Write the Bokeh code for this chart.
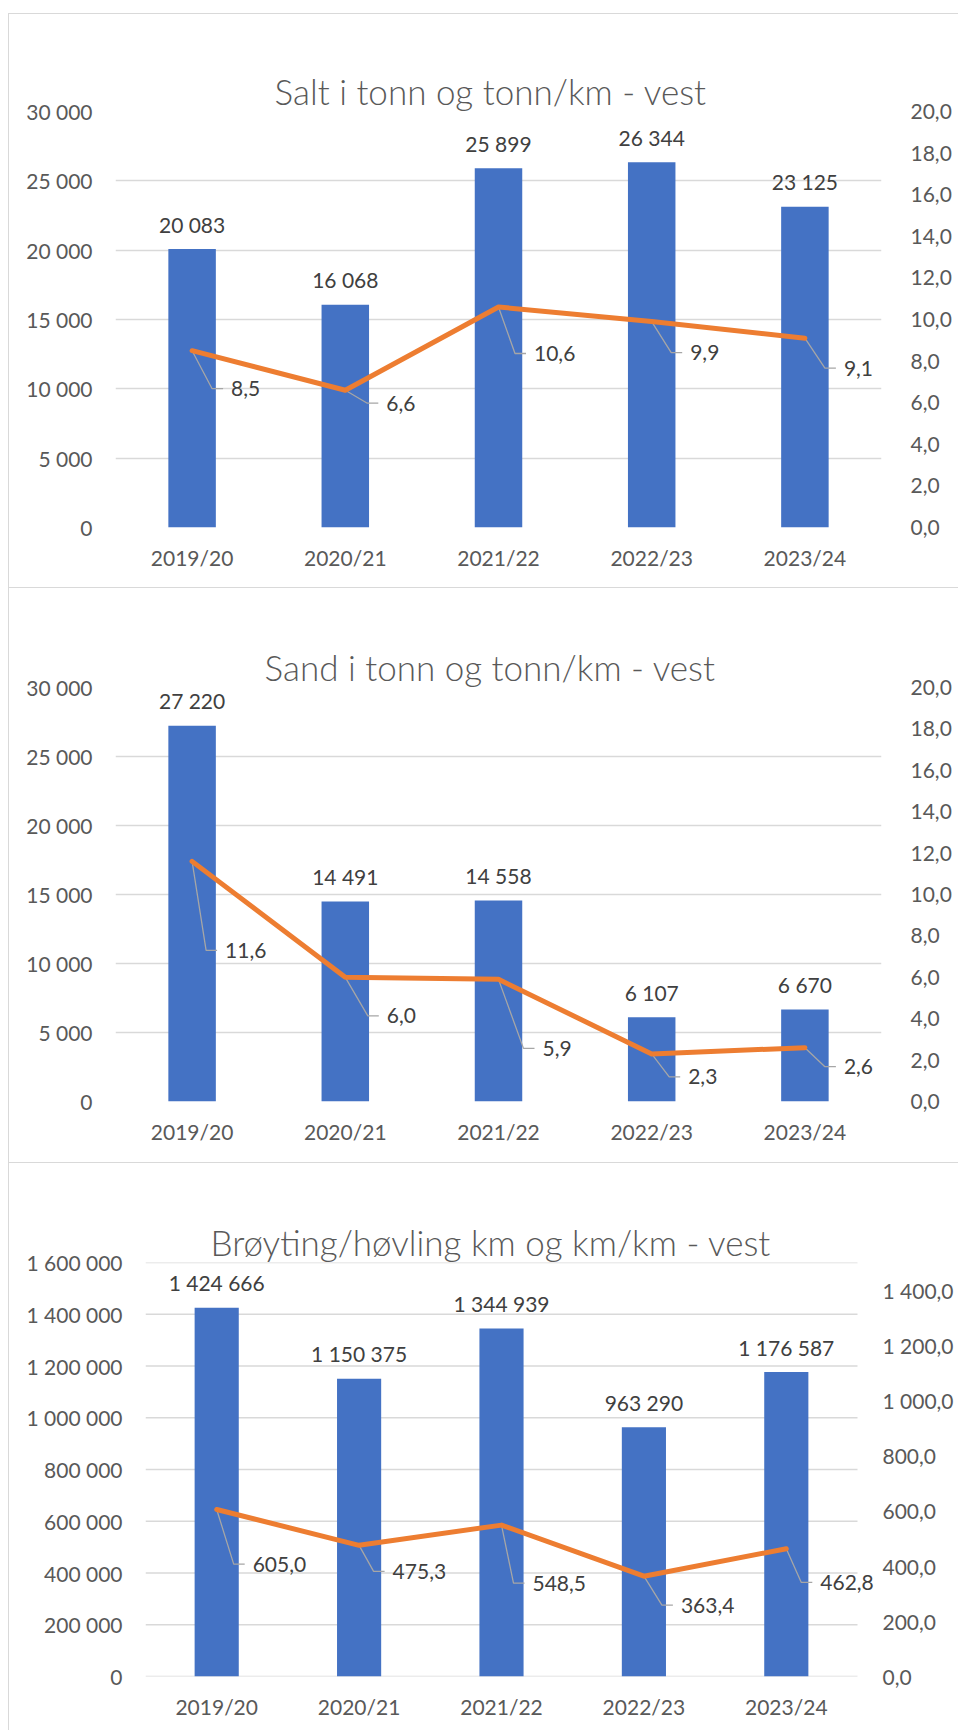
from bokeh.plotting import figure
from bokeh.models import (Range1d, LinearAxis, FixedTicker, ColumnDataSource, Spacer,
                          LabelSet, Title)
from bokeh.layouts import column, row
from bokeh.core.properties import value
from bokeh.embed import file_html
from bokeh.resources import INLINE

# ---------------- data ----------------
categories = ["2019/20", "2020/21", "2021/22", "2022/23", "2023/24"]

salt_tonn = [20083, 16068, 25899, 26344, 23125]
salt_tonn_per_km = [8.5, 6.6, 10.6, 9.9, 9.1]

sand_tonn = [27220, 14491, 14558, 6107, 6670]
sand_tonn_per_km = [11.6, 6.0, 5.9, 2.3, 2.6]

broyting_km = [1424666, 1150375, 1344939, 963290, 1176587]
broyting_km_per_km = [605.0, 475.3, 548.5, 363.4, 462.8]

tonn_ticks = [0, 5000, 10000, 15000, 20000, 25000, 30000]
tonn_tick_labels = ["0", "5 000", "10 000", "15 000", "20 000", "25 000", "30 000"]
rate_ticks = [0, 2, 4, 6, 8, 10, 12, 14, 16, 18, 20]
rate_tick_labels = ["0,0", "2,0", "4,0", "6,0", "8,0", "10,0", "12,0", "14,0", "16,0", "18,0", "20,0"]
km_ticks = [0, 200000, 400000, 600000, 800000, 1000000, 1200000, 1400000, 1600000]
km_tick_labels = ["0", "200 000", "400 000", "600 000", "800 000", "1 000 000",
                  "1 200 000", "1 400 000", "1 600 000"]
kmkm_ticks = [0, 200, 400, 600, 800, 1000, 1200, 1400]
kmkm_tick_labels = ["0,0", "200,0", "400,0", "600,0", "800,0", "1 000,0", "1 200,0", "1 400,0"]

titles = ["Salt i tonn og tonn/km - vest",
          "Sand i tonn og tonn/km - vest",
          "Brøyting/høvling km og km/km - vest"]

# ---------------- styles / positions ----------------
FONT = "Lato"
TITLE_FONT = "'Lato Light', Lato"
BLUE = "#4472C4"
ORANGE = "#ED7D31"
GRID = "#d9d9d9"
AXIS_TXT = "#595959"
DATA_TXT = "#404040"
W = 950

# label offsets (px) of line data labels: (to label left edge, to label centre)
offs_salt = [(39, 38), (41, 13), (35.5, 46.5), (38.5, 31), (39, 30)]
offs_sand = [(33, 89), (41.5, 38.5), (44, 69), (36.5, 23), (39, 19)]
offs_broy = [(36, 54.6), (33.5, 26), (31, 58), (37, 29), (34, 33.7)]


def fmt_int(v):
    return f"{v:,}".replace(",", " ")


def fmt_dec(v):
    return f"{v:,.1f}".replace(",", " ").replace(".", ",")


def make_panel(title, bars, rates, lticks, llabels, lmax, rticks, rlabels, rmax,
               height, mbl, mbr, mbt, mbb, lstand, rstand, bstand, offs,
               title_offset, title_gap, extra_right=0):
    base_w = W - mbl - mbr            # width of the category area
    frame_w = base_w + extra_right    # plotting frame (may extend past grid)
    xmax = 5.0 * frame_w / base_w
    p = figure(width=W, height=height, output_backend="svg", toolbar_location=None,
               title=None,
               x_range=Range1d(0, xmax), y_range=Range1d(0, lmax),
               min_border_left=mbl, min_border_right=mbr - extra_right,
               min_border_top=mbt, min_border_bottom=mbb)
    p.frame_align = False
    p.extra_y_ranges = {"r": Range1d(0, rmax)}
    p.outline_line_color = None
    p.background_fill_color = "white"
    p.border_fill_color = "white"
    p.styles = {"border-top": "1px solid #d9d9d9", "border-left": "1px solid #d9d9d9"}

    # the figure's own axes (taken before any extra axis is added)
    xax = p.below[0]
    yax = p.left[0]

    # empty (tick-less, label-less) axis as a gap between frame and title
    gap = LinearAxis(ticker=FixedTicker(ticks=[]), axis_line_color=None,
                     major_tick_line_color=None, minor_tick_line_color=None,
                     major_tick_in=0, major_tick_out=title_gap,
                     minor_tick_in=0, minor_tick_out=0, major_label_standoff=0)
    p.add_layout(gap, "above")
    p.add_layout(Title(text=title, align="left", offset=title_offset, standoff=0,
                       text_font=TITLE_FONT, text_font_size="35px",
                       text_font_style="normal", text_color=AXIS_TXT), "above")

    xs = [i + 0.5 for i in range(len(categories))]

    # axes
    yax.ticker = FixedTicker(ticks=lticks)
    yax.major_label_overrides = {float(t): s for t, s in zip(lticks, llabels)}
    xax.ticker = FixedTicker(ticks=xs)
    xax.major_label_overrides = {float(x): c for x, c in zip(xs, categories)}
    rax = LinearAxis(y_range_name="r", ticker=FixedTicker(ticks=rticks))
    rax.major_label_overrides = {float(t): s for t, s in zip(rticks, rlabels)}
    p.add_layout(rax, "right")
    for ax, st in ((yax, lstand), (xax, bstand), (rax, rstand - extra_right)):
        ax.axis_line_color = None
        ax.major_tick_line_color = None
        ax.minor_tick_line_color = None
        ax.major_tick_out = 0
        ax.major_tick_in = 0
        ax.minor_tick_out = 0
        ax.minor_tick_in = 0
        ax.major_label_standoff = st
        ax.major_label_text_font = FONT
        ax.major_label_text_font_size = "21px"
        ax.major_label_text_color = AXIS_TXT

    p.xgrid.grid_line_color = None
    if extra_right:
        p.ygrid.grid_line_color = None
        p.segment(x0=[0] * len(lticks), x1=[5] * len(lticks), y0=lticks, y1=lticks,
                  line_color=GRID, line_width=1.5, level="underlay")
    else:
        p.ygrid.ticker = FixedTicker(ticks=lticks)
        p.ygrid.grid_line_color = GRID
        p.ygrid.grid_line_width = 1.5

    # bars
    src = ColumnDataSource(dict(x=xs, top=bars, lab=[fmt_int(v) for v in bars],
                                r=rates))
    p.vbar(x="x", top="top", width=0.31, bottom=0, source=src,
           fill_color=BLUE, line_color=None)
    p.add_layout(LabelSet(x="x", y="top", text="lab", source=src, text_align="center",
                          text_baseline="middle", y_offset=25, text_font=value(FONT),
                          text_font_size=value("21px"), text_color=DATA_TXT))

    # leader lines + line labels
    frame_h = height - mbt - mbb
    pxx = base_w / 5.0
    pxy = frame_h / rmax
    lxs, lys, lx, ly = [], [], [], []
    for x, r, (dx, dy) in zip(xs, rates, offs):
        tx = x + dx / pxx
        ty = r - dy / pxy
        lx.append(tx)
        ly.append(ty)
        lxs.append([x, x + (dx - 19) / pxx, x + (dx - 8) / pxx])
        lys.append([r, ty, ty])
    p.multi_line(xs=lxs, ys=lys, y_range_name="r", line_color="#a6a6a6", line_width=1.3)
    p.line(x="x", y="r", source=src, y_range_name="r", line_color=ORANGE,
           line_width=5, line_join="round", line_cap="round")
    lsrc = ColumnDataSource(dict(x=lx, y=ly, t=[fmt_dec(v) for v in rates]))
    p.add_layout(LabelSet(x="x", y="y", text="t", source=lsrc, y_range_name="r",
                          text_align="left", text_baseline="middle",
                          text_font=value(FONT), text_font_size=value("21px"),
                          text_color=DATA_TXT))
    return p


p1 = make_panel(titles[0], salt_tonn, salt_tonn_per_km, tonn_ticks, tonn_tick_labels, 30000,
                rate_ticks, rate_tick_labels, 20,
                574, 106, 78, 97, 61, 23, 29, 17, offs_salt, 159, 35)
p2 = make_panel(titles[1], sand_tonn, sand_tonn_per_km, tonn_ticks, tonn_tick_labels, 30000,
                rate_ticks, rate_tick_labels, 20,
                575, 106, 78, 99, 62, 23, 29, 17, offs_sand, 149, 36)
p3 = make_panel(titles[2], broyting_km, broyting_km_per_km, km_ticks, km_tick_labels, 1600000,
                kmkm_ticks, kmkm_tick_labels, 1500,
                568, 136, 102, 99, 55, 23, 25, 17, offs_broy, 65, 35, extra_right=24)

layout = row(Spacer(width=8, height=10),
             column(Spacer(height=13, width=W), p1, p2, p3, spacing=0),
             spacing=0)

open("out.html", "w").write(file_html(layout, INLINE))
